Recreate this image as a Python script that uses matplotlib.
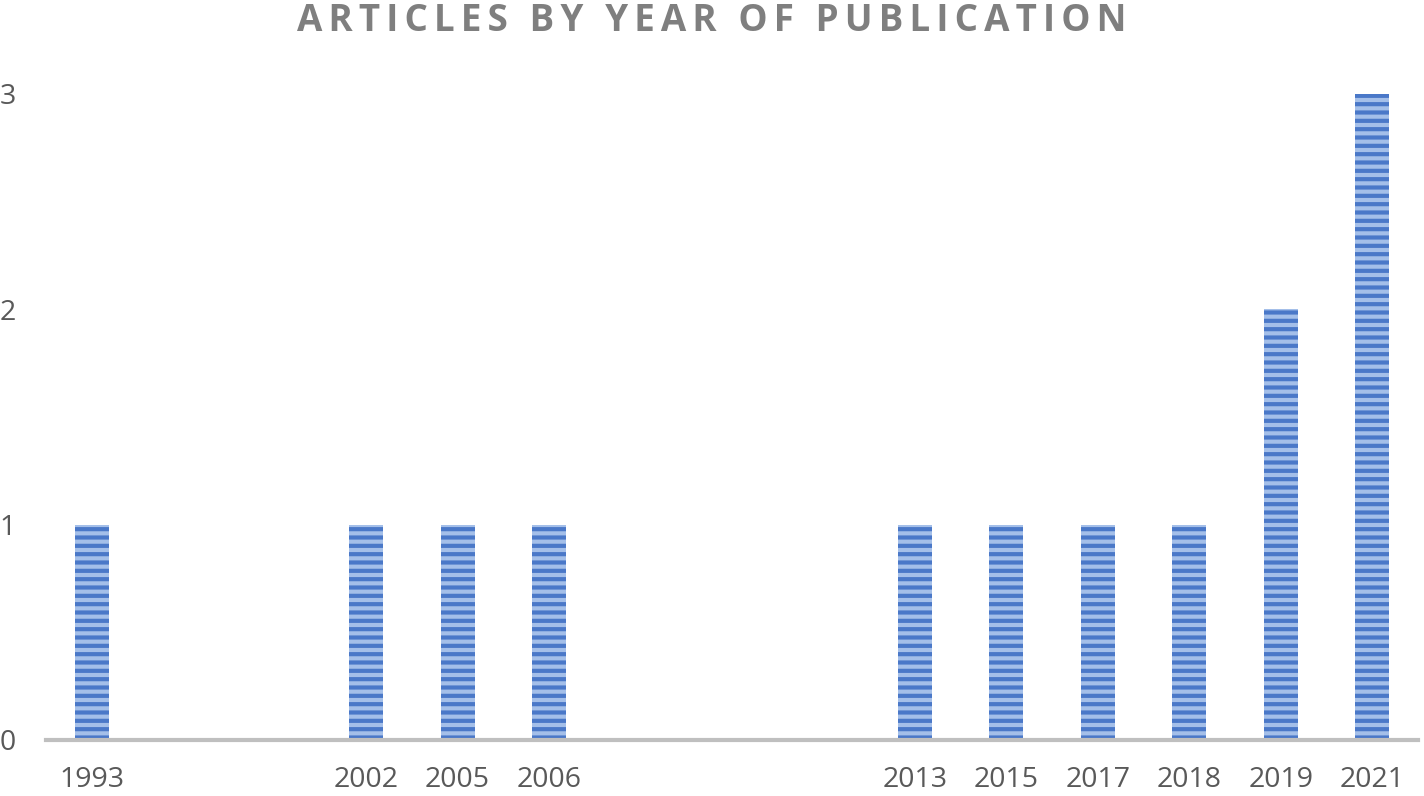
import matplotlib.pyplot as plt
import numpy as np

# years shown on the axis (empty strings are blank slots in the original chart)
years = ['1993', '', '', '2002', '2005', '2006', '', '', '', '2013', '2015', '2017', '2018', '2019', '2021']
articles = [1, 0, 0, 1, 1, 1, 0, 0, 0, 1, 1, 1, 1, 2, 3]
y_ticks = [0, 1, 2, 3]

plt.rcParams['font.family'] = ['Open Sans', 'DejaVu Sans']
plt.rcParams['hatch.linewidth'] = 3.0

fig = plt.figure(figsize=(14.24, 7.96), dpi=100)
ax = fig.add_axes([46 / 1424, 56 / 796, 1372 / 1424, 646 / 796])

x = np.arange(len(years))
ax.bar(x, articles, width=0.37, color='#a4bfe9', edgecolor='#4a78c8',
       linewidth=0, hatch='--')

ax.set_xlim(-0.5, len(years) - 0.5)
ax.set_ylim(0, 3)
ax.set_xticks(x)
ax.set_xticklabels(years)
ax.set_yticks(y_ticks)
ax.tick_params(axis='x', length=0, pad=19, labelsize=20.5, labelcolor='#595959')
ax.tick_params(axis='y', length=0, pad=22, labelsize=20.5, labelcolor='#595959')

for side in ['left', 'right', 'top']:
    ax.spines[side].set_visible(False)
ax.spines['bottom'].set_color('#bfbfbf')
ax.spines['bottom'].set_linewidth(3)

# title with wide letter spacing
title = 'ARTICLES BY YEAR OF PUBLICATION'
fig.text(0.5, 0.973, '\u2006'.join(title), ha='center', va='center',
         fontsize=26.5, fontweight='bold', color='#7f7f7f')

fig.savefig('out.png', dpi=100)
